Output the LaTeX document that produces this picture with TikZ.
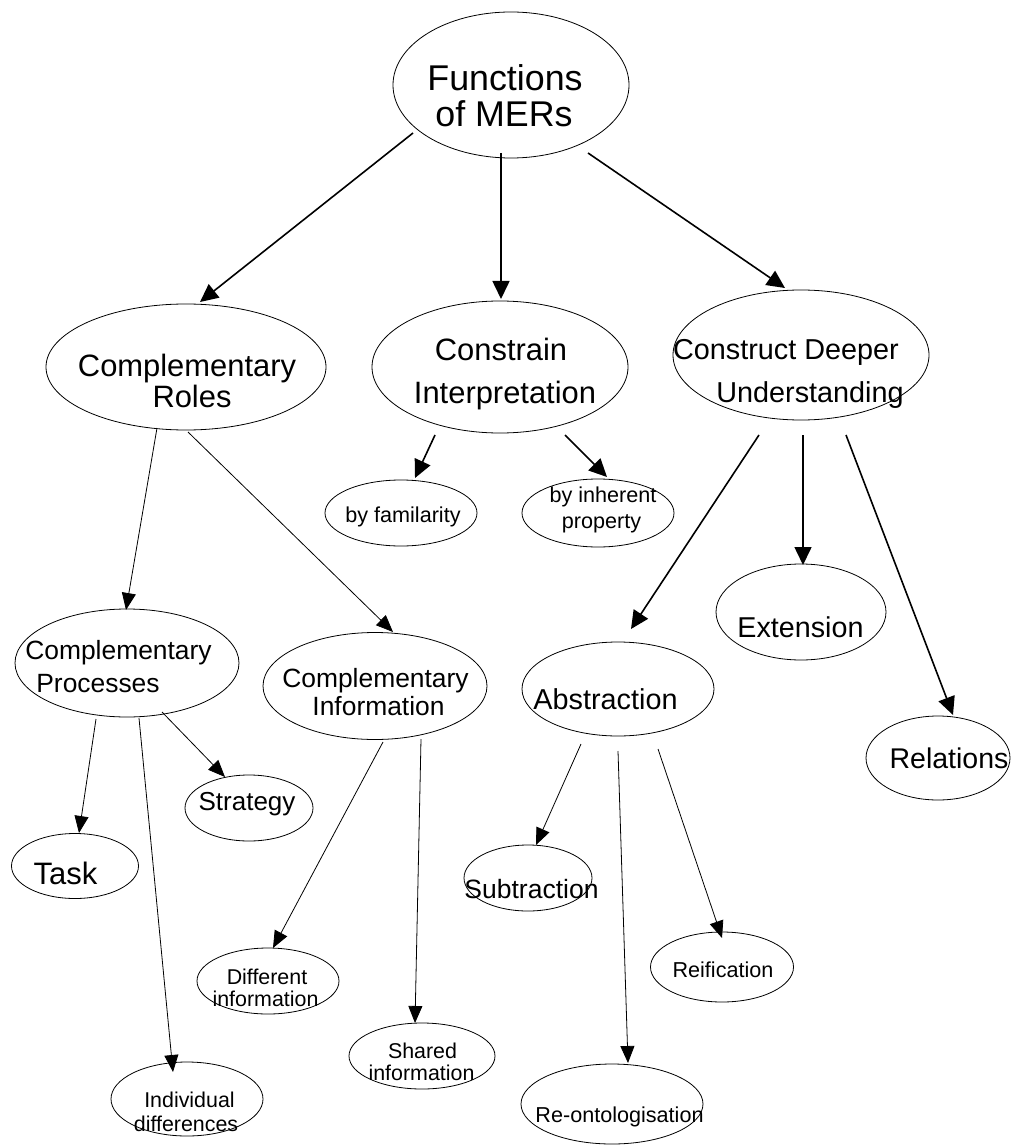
\documentclass[tikz,border=0pt]{standalone}
\usepackage{fontspec}
\setmainfont{Liberation Sans}
\usetikzlibrary{shapes.geometric,arrows.meta,calc}
\newcommand\txtsize[1]{\fontsize{#1}{#1}\selectfont}
\begin{document}
\begin{tikzpicture}[x=1pt,y=-1pt,
  bub/.style={draw, ellipse, inner sep=0pt, line width=0.8pt},
  lbl/.style={anchor=base, inner sep=0pt},
  thickarr/.style={line width=1.6pt, -{Triangle[length=18pt,width=17pt]}},
  thinarr/.style={line width=0.8pt, -{Triangle[length=17pt,width=14pt]}}]
\useasboundingbox[fill=white] (0,0) rectangle (1013,1147);

% ellipses
\node[bub, minimum width=236pt, minimum height=146pt] (fun)    at (511,85)   {};
\node[bub, minimum width=280pt, minimum height=126pt] (roles)  at (186,367)  {};
\node[bub, minimum width=256pt, minimum height=132pt] (constr) at (500,367)  {};
\node[bub, minimum width=256pt, minimum height=130pt] (deeper) at (801,355)  {};
\node[bub, minimum width=152pt, minimum height=66pt]  (fam)    at (401,513)  {};
\node[bub, minimum width=152pt, minimum height=68pt]  (inh)    at (598,513)  {};
\node[bub, minimum width=224pt, minimum height=108pt] (proc)   at (127,663)  {};
\node[bub, minimum width=224pt, minimum height=107pt] (info)   at (375,686)  {};
\node[bub, minimum width=192pt, minimum height=94pt]  (abst)   at (618,689)  {};
\node[bub, minimum width=170pt, minimum height=96pt]  (ext)    at (801,612)  {};
\node[bub, minimum width=144pt, minimum height=84pt]  (rel)    at (938,758)  {};
\node[bub, minimum width=128pt, minimum height=66pt]  (strat)  at (249,808)  {};
\node[bub, minimum width=127pt, minimum height=65pt]  (task)   at (75,866)   {};
\node[bub, minimum width=128pt, minimum height=66pt]  (subt)   at (528,878)  {};
\node[bub, minimum width=143pt, minimum height=70pt]  (reif)   at (722,967)  {};
\node[bub, minimum width=142pt, minimum height=66pt]  (diff)   at (268,981)  {};
\node[bub, minimum width=146pt, minimum height=66pt]  (shared) at (422,1056) {};
\node[bub, minimum width=152pt, minimum height=74pt]  (indiv)  at (187,1099) {};
\node[bub, minimum width=182pt, minimum height=80pt]  (reont)  at (612,1104) {};

% labels
\node[lbl, font=\txtsize{35.8}] (fun-a) at (505,91)  {Functions};
\node[lbl, font=\txtsize{35.8}] (fun-b) at (504,127) {of MERs};
\node[lbl, font=\txtsize{30.9}] (roles-a) at (187,376) {Complementary};
\node[lbl, font=\txtsize{30.9}] (roles-b) at (192,407) {Roles};
\node[lbl, font=\txtsize{30.9}] (constr-a) at (501,360) {Constrain};
\node[lbl, font=\txtsize{30.9}] (constr-b) at (505,403) {Interpretation};
\node[lbl, font=\txtsize{28.8}] (deeper-a) at (786,359) {Construct Deeper};
\node[lbl, font=\txtsize{28.8}] (deeper-b) at (810,402) {Understanding};
\node[lbl, font=\txtsize{21.6}] (fam-a) at (403,522) {by familarity};
\node[lbl, font=\txtsize{21.6}] (inh-a) at (603,502) {by inherent};
\node[lbl, font=\txtsize{21.6}] (inh-b) at (601.5,528) {property};
\node[lbl, font=\txtsize{26.4}] (proc-a) at (118.5,659) {Complementary};
\node[lbl, font=\txtsize{26.4}] (proc-b) at (98,692) {Processes};
\node[lbl, font=\txtsize{26.4}] (info-a) at (375.5,687) {Complementary};
\node[lbl, font=\txtsize{26.4}] (info-b) at (378.5,715) {Information};
\node[lbl, font=\txtsize{28.8}] (abst-a) at (605.5,709) {Abstraction};
\node[lbl, font=\txtsize{28.7}] (ext-a) at (800.5,637) {Extension};
\node[lbl, font=\txtsize{28.5}] (rel-a) at (949,768) {Relations};
\node[lbl, font=\txtsize{26}] (strat-a) at (247,810) {Strategy};
\node[lbl, font=\txtsize{31}] (task-a) at (65.5,884) {Task};
\node[lbl, font=\txtsize{26.5}] (subt-a) at (531.5,898) {Subtraction};
\node[lbl, font=\txtsize{21.6}] (reif-a) at (723,977) {Reification};
\node[lbl, font=\txtsize{21.4}] (diff-a) at (267,984) {Different};
\node[lbl, font=\txtsize{21.4}] (diff-b) at (265.5,1006) {information};
\node[lbl, font=\txtsize{21.4}] (shared-a) at (422.5,1058) {Shared};
\node[lbl, font=\txtsize{21.4}] (shared-b) at (421.5,1080) {information};
\node[lbl, font=\txtsize{21.4}] (indiv-a) at (189.5,1107) {Individual};
\node[lbl, font=\txtsize{21.4}] (indiv-b) at (186,1131) {differences};
\node[lbl, font=\txtsize{21.6}] (reont-a) at (619.5,1122) {Re-ontologisation};

% connectors from the top three levels
\draw[thickarr] ($(fun)+(-98,48)$) -- ($(roles)+(14,-65)$);
\draw[thickarr] ($(fun)+(-10,68)$) -- ($(constr)+(1,-68)$);
\draw[thickarr] ($(fun)+(77,68)$) -- ($(deeper)+(-16,-67)$);
\draw[thickarr] ($(constr)+(-65,68)$) -- ($(fam)+(14,-35)$);
\draw[thickarr] ($(constr)+(65,68)$) -- ($(inh)+(9,-36)$);
\draw[thickarr] ($(deeper)+(-42,80)$) -- ($(abst)+(13,-60)$);
\draw[thickarr] ($(deeper)+(2,80)$) -- ($(ext)+(2,-47)$);
\draw[thickarr] ($(deeper)+(45,80)$) -- ($(rel)+(15,-43)$);

% connectors of the lower levels
\draw[thinarr] ($(roles)+(-29,61)$) -- ($(proc)+(-1,-53)$);
\draw[thinarr] ($(roles)+(2,65)$) -- ($(info)+(18,-54)$);
\draw[thinarr] ($(proc)+(-31,56)$) -- ($(task)+(4,-33)$);
\draw[thinarr] ($(proc)+(12,55)$) -- ($(indiv)+(-14,-27)$);
\draw[thinarr] ($(proc)+(35,49)$) -- ($(strat)+(-24,-31)$);
\draw[thinarr] ($(info)+(8,56)$) -- ($(diff)+(5,-33)$);
\draw[thinarr] ($(info)+(46,53)$) -- ($(shared)+(-7,-33)$);
\draw[thinarr] ($(abst)+(-37,55)$) -- ($(subt)+(8,-33)$);
\draw[thinarr] ($(abst)+(0,62)$) -- ($(reont)+(16,-41)$);
\draw[thinarr] ($(abst)+(40,60)$) -- ($(reif)+(0,-29)$);
\end{tikzpicture}
\end{document}
